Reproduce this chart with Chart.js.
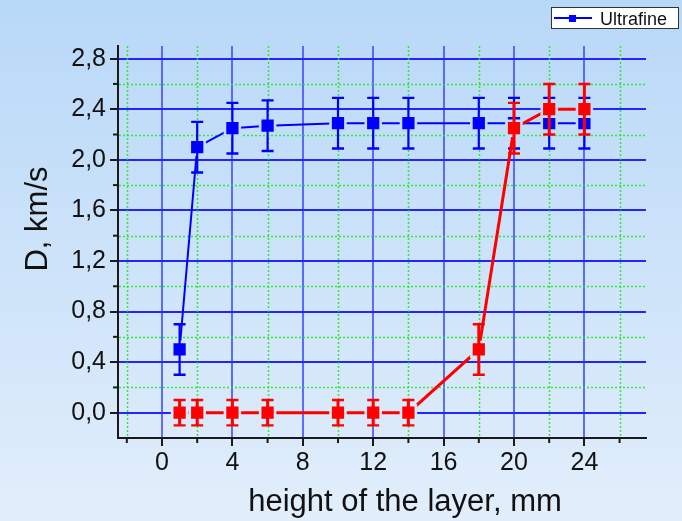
<!DOCTYPE html>
<html>
<head>
<meta charset="utf-8">
<script src="https://cdn.jsdelivr.net/npm/chart.js@4/dist/chart.umd.min.js"></script>
<style>
  html, body { margin: 0; padding: 0; background: #d0e3f8; }
  #wrap { width: 682px; height: 521px; }
</style>
</head>
<body>
<div id="wrap"><canvas id="chart" width="682" height="521"></canvas></div>
<script>
// Layer height (mm) at which detonation velocity was measured
const heights = [1, 2, 4, 6, 10, 12, 14, 18, 20, 22, 24];

// Ultrafine powder: detonation velocity D (km/s) and its error
const ultrafine    = [0.5, 2.1, 2.25, 2.27, 2.29, 2.29, 2.29, 2.29, 2.29, 2.29, 2.29];
const ultrafineErr = [0.2, 0.2, 0.2, 0.2, 0.2, 0.2, 0.2, 0.2, 0.2, 0.2, 0.2];

// Second powder: detonation velocity D (km/s) and its error
const secondPowder    = [0, 0, 0, 0, 0, 0, 0, 0.5, 2.25, 2.4, 2.4];
const secondPowderErr = [0.1, 0.1, 0.1, 0.1, 0.1, 0.1, 0.1, 0.2, 0.2, 0.2, 0.2];

// Axis ticks
const xMajorTicks = [0, 4, 8, 12, 16, 20, 24];
const xMinorTicks = [-2, 2, 6, 10, 14, 18, 22, 26];
const yMajorTicks = [0, 0.4, 0.8, 1.2, 1.6, 2.0, 2.4, 2.8];
const yMinorTicks = [0.2, 0.6, 1.0, 1.4, 1.8, 2.2, 2.6];

const xTitle = 'height of the layer, mm';
const yTitle = 'D, km/s';
const legendLabel = 'Ultrafine';

const FONT = "'Liberation Sans', Arial, sans-serif";
const W = 682, H = 521;
const BG_TOP = [184, 216, 248];
const BG_BOTTOM = [226, 238, 251];

function bgAt(py) {
  const t = Math.max(0, Math.min(1, py / H));
  const c = BG_TOP.map((v, i) => Math.round(v + (BG_BOTTOM[i] - v) * t));
  return `rgb(${c[0]},${c[1]},${c[2]})`;
}

function toPoints(xs, ys) {
  return xs.map((x, i) => ({ x: x, y: ys[i] }));
}

// Halo around markers, tinted like the background behind them
function haloColor(ctx) {
  const chart = ctx.chart;
  if (!ctx.parsed || !chart.scales || !chart.scales.y) return bgAt(H / 2);
  const py = chart.scales.y.getPixelForValue(ctx.parsed.y);
  return isFinite(py) ? bgAt(py) : bgAt(H / 2);
}

const backgroundPlugin = {
  id: 'pageBackground',
  beforeDraw(chart) {
    const ctx = chart.ctx;
    const g = ctx.createLinearGradient(0, 0, 0, H);
    g.addColorStop(0, bgAt(0));
    g.addColorStop(1, bgAt(H));
    ctx.save();
    ctx.fillStyle = g;
    ctx.fillRect(0, 0, W, H);
    ctx.restore();
  }
};

// Dotted minor grid lines and short minor tick marks
const minorGridPlugin = {
  id: 'minorGrid',
  beforeDatasetsDraw(chart) {
    const { ctx, chartArea: a, scales: { x, y } } = chart;
    ctx.save();
    ctx.strokeStyle = 'rgba(20,235,20,0.85)';
    ctx.lineWidth = 1.5;
    ctx.setLineDash([2, 2]);
    xMinorTicks.forEach(v => {
      const px = Math.round(x.getPixelForValue(v)) + 0.5;
      ctx.beginPath(); ctx.moveTo(px, a.top); ctx.lineTo(px, a.bottom - 1); ctx.stroke();
    });
    yMinorTicks.forEach(v => {
      const py = Math.round(y.getPixelForValue(v)) + 0.5;
      ctx.beginPath(); ctx.moveTo(a.left + 1, py); ctx.lineTo(a.right, py); ctx.stroke();
    });
    ctx.setLineDash([]);
    ctx.strokeStyle = '#1a1a1a';
    ctx.lineWidth = 2;
    xMinorTicks.forEach(v => {
      const px = x.getPixelForValue(v);
      ctx.beginPath(); ctx.moveTo(px, a.bottom); ctx.lineTo(px, a.bottom + 5); ctx.stroke();
    });
    yMinorTicks.forEach(v => {
      const py = y.getPixelForValue(v);
      ctx.beginPath(); ctx.moveTo(a.left, py); ctx.lineTo(a.left - 5, py); ctx.stroke();
    });
    ctx.restore();
  }
};

// Vertical error bars with caps, drawn over each series
const errorBarPlugin = {
  id: 'errorBars',
  afterDatasetDraw(chart, args) {
    const ds = chart.data.datasets[args.index];
    if (!ds.errors) return;
    const { ctx, scales: { x, y } } = chart;
    ctx.save();
    ctx.strokeStyle = ds.borderColor;
    ds.data.forEach((p, i) => {
      const e = ds.errors[i];
      const px = x.getPixelForValue(p.x);
      const top = y.getPixelForValue(p.y + e);
      const bot = y.getPixelForValue(p.y - e);
      ctx.lineWidth = ds.errorBarWidth;
      ctx.beginPath(); ctx.moveTo(px, top); ctx.lineTo(px, bot); ctx.stroke();
      ctx.lineWidth = 2.4;
      ctx.beginPath();
      ctx.moveTo(px - 6, top); ctx.lineTo(px + 6, top);
      ctx.moveTo(px - 6, bot); ctx.lineTo(px + 6, bot);
      ctx.stroke();
    });
    ctx.restore();
  }
};

// Axis titles and the boxed legend
const annotationPlugin = {
  id: 'titlesAndLegend',
  afterDraw(chart) {
    const ctx = chart.ctx;
    ctx.save();
    ctx.fillStyle = '#111';
    ctx.font = `31px ${FONT}`;
    ctx.textAlign = 'center';
    ctx.textBaseline = 'alphabetic';
    ctx.fillText(xTitle, 405, 511);

    ctx.save();
    ctx.translate(47, 219);
    ctx.rotate(-Math.PI / 2);
    ctx.fillText(yTitle, 0, 0);
    ctx.restore();

    // legend box
    ctx.fillStyle = '#ffffff';
    ctx.fillRect(551, 7, 128, 22);
    ctx.strokeStyle = '#333';
    ctx.lineWidth = 1;
    ctx.strokeRect(551.5, 7.5, 127, 21);
    const blue = chart.data.datasets[1].borderColor;
    ctx.strokeStyle = blue;
    ctx.lineWidth = 2;
    ctx.beginPath(); ctx.moveTo(554, 18); ctx.lineTo(592, 18); ctx.stroke();
    ctx.fillStyle = blue;
    ctx.fillRect(569, 15, 7, 7);
    ctx.fillStyle = '#111';
    ctx.font = `18px ${FONT}`;
    ctx.textAlign = 'left';
    ctx.fillText(legendLabel, 600, 25);
    ctx.restore();
  }
};

const fmtComma = v => Number(v).toFixed(1).replace('.', ',');

new Chart(document.getElementById('chart'), {
  type: 'line',
  data: {
    datasets: [
      {
        label: '',
        data: toPoints(heights, secondPowder),
        errors: secondPowderErr,
        errorBarWidth: 3,
        borderColor: '#ff0000',
        backgroundColor: '#ff0000',
        borderWidth: 3,
        pointStyle: 'rect',
        pointRadius: 10.5,
        pointBorderWidth: 2.6,
        pointBackgroundColor: '#ff0000',
        pointBorderColor: haloColor,
        tension: 0
      },
      {
        label: legendLabel,
        data: toPoints(heights, ultrafine),
        errors: ultrafineErr,
        errorBarWidth: 2.2,
        borderColor: '#0000ff',
        backgroundColor: '#0000ff',
        borderWidth: 2,
        pointStyle: 'rect',
        pointRadius: 10.5,
        pointBorderWidth: 2.6,
        pointBackgroundColor: '#0000ff',
        pointBorderColor: haloColor,
        tension: 0
      }
    ]
  },
  options: {
    responsive: false,
    animation: false,
    devicePixelRatio: 1,
    layout: { padding: { left: 0, top: 46, right: 36, bottom: 0 } },
    plugins: {
      legend: { display: false },
      tooltip: { enabled: false }
    },
    scales: {
      x: {
        type: 'linear',
        min: -2.5,
        max: 27.5,
        afterBuildTicks: s => { s.ticks = xMajorTicks.map(v => ({ value: v })); },
        afterFit: s => { s.height = 83; },
        ticks: {
          callback: v => String(v),
          color: '#111',
          font: { family: FONT, size: 25 },
          padding: 2,
          maxRotation: 0,
          autoSkip: false
        },
        grid: {
          color: 'rgba(70,85,255,0.85)',
          lineWidth: 2,
          drawTicks: true,
          tickLength: 8,
          tickColor: '#1a1a1a',
          tickWidth: 2
        },
        border: { display: true, color: '#1a1a1a', width: 2 }
      },
      y: {
        type: 'linear',
        min: -0.2,
        max: 2.9,
        afterBuildTicks: s => { s.ticks = yMajorTicks.map(v => ({ value: v })); },
        afterFit: s => { s.width = 118; },
        ticks: {
          callback: v => fmtComma(v),
          color: '#111',
          font: { family: FONT, size: 25 },
          padding: 4,
          autoSkip: false
        },
        grid: {
          color: '#2424ff',
          lineWidth: 2,
          drawTicks: true,
          tickLength: 8,
          tickColor: '#1a1a1a',
          tickWidth: 2
        },
        border: { display: true, color: '#1a1a1a', width: 2 }
      }
    }
  },
  plugins: [backgroundPlugin, minorGridPlugin, errorBarPlugin, annotationPlugin]
});
</script>
</body>
</html>
